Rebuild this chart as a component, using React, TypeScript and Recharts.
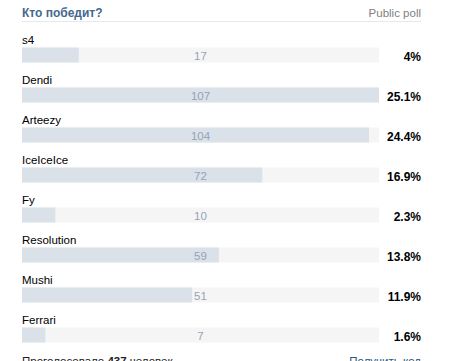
import React from "react";
import { BarChart, Bar, XAxis, YAxis, LabelList, Customized } from "recharts";

const candidates = ["s4", "Dendi", "Arteezy", "IceIceIce", "Fy", "Resolution", "Mushi", "Ferrari"];
const votes = [17, 107, 104, 72, 10, 59, 51, 7];
const percents = ["4%", "25.1%", "24.4%", "16.9%", "2.3%", "13.8%", "11.9%", "1.6%"];
const title = "Кто победит?";
const pollType = "Public poll";
const totalVoters = "437";

const data = candidates.map((name, i) => ({ name, votes: votes[i], pct: percents[i] }));

const W = 456;
const H = 361;
const LEFT = 22;
const RIGHT_EDGE = 379;
const TEXT_RIGHT = 421;
const FONT = "Liberation Sans, Arial, sans-serif";

const NameLabel = (p: any) => (
  <text x={p.x} y={p.y - 4} fontSize={11.5} fontFamily={FONT} fill="#000">
    {p.value}
  </text>
);
const CountLabel = (p: any) => (
  <text x={(LEFT + RIGHT_EDGE) / 2} y={p.y + 12} fontSize={11.5} fontFamily={FONT} fill="#95a3b9" textAnchor="middle">
    {p.value}
  </text>
);
const PctLabel = (p: any) => (
  <text x={TEXT_RIGHT} y={p.y + 13} fontSize={12} fontWeight="bold" fontFamily={FONT} fill="#000" textAnchor="end">
    {p.value}
  </text>
);

const Header = () => (
  <g>
    <text x={LEFT} y={16.5} fontSize={12} fontWeight="bold" fontFamily={FONT} fill="#45688e">
      {title}
    </text>
    <text x={TEXT_RIGHT} y={16.5} fontSize={11.5} fontFamily={FONT} fill="#808080" textAnchor="end">
      {pollType}
    </text>
    <line x1={LEFT} x2={TEXT_RIGHT} y1={21.5} y2={21.5} stroke="#e7e8ec" strokeWidth={1} />
    <text x={LEFT} y={365} fontSize={11.5} fontFamily={FONT} fill="#222">
      Проголосовало <tspan fontWeight="bold">{totalVoters}</tspan> человек
    </text>
    <text x={TEXT_RIGHT} y={365} fontSize={11.5} fontFamily={FONT} fill="#2b587a" textAnchor="end">
      Получить код
    </text>
  </g>
);

export default function App() {
  return (
    <div style={{ position: "absolute", left: 0, top: 0, width: W, height: H, background: "#fff" }}>
      <BarChart
        width={W}
        height={H}
        data={data}
        layout="vertical"
        margin={{ top: 34.5, right: W - RIGHT_EDGE, bottom: 6.5, left: LEFT }}
        barCategoryGap={0}
      >
        <XAxis type="number" dataKey="votes" domain={[0, 107]} hide />
        <YAxis type="category" dataKey="name" hide />
        <Bar dataKey="votes" barSize={15} fill="#dae1e8" background={{ fill: "#f5f5f5" }} isAnimationActive={false}>
          <LabelList dataKey="name" content={NameLabel} />
          <LabelList dataKey="votes" content={CountLabel} />
          <LabelList dataKey="pct" content={PctLabel} />
        </Bar>
        <Customized component={Header} />
      </BarChart>
    </div>
  );
}
